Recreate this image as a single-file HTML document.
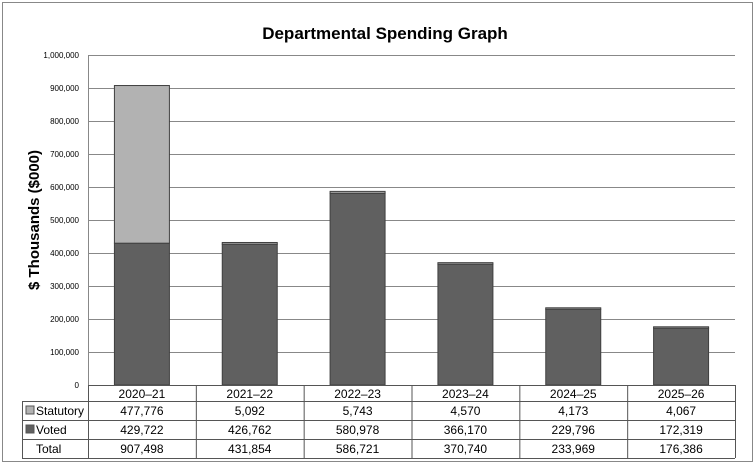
<!DOCTYPE html>
<html><head><meta charset="utf-8"><style>
body{margin:0;background:#fff;font-family:"Liberation Sans",sans-serif}
</style></head><body>
<svg id="c" width="755" height="464" xmlns="http://www.w3.org/2000/svg">
<rect x="2.5" y="2.5" width="750" height="459" fill="#fff" stroke="#888"/>
<text x="385" y="39" text-anchor="middle" font-size="17" font-weight="bold">Departmental Spending Graph</text>
<text transform="translate(39,220) rotate(-90)" text-anchor="middle" font-size="15" font-weight="bold">$ Thousands ($000)</text>
<g id="g"></g>
</svg>
<script>
const categories=["2020–21","2021–22","2022–23","2023–24","2024–25","2025–26"];
const statutory=[477776,5092,5743,4570,4173,4067];
const voted=[429722,426762,580978,366170,229796,172319];
const totals=[907498,431854,586721,370740,233969,176386];
const yTicks=[0,100000,200000,300000,400000,500000,600000,700000,800000,900000,1000000];
const NS="http://www.w3.org/2000/svg",g=document.getElementById('g');
const L=88,R=735,T=55,B=385,yMax=1000000;
const y=v=>B-(v/yMax)*(B-T);
const cw=(R-L)/categories.length;
const x=i=>L+cw*i;
function mk(t,a,txt){const e=document.createElementNS(NS,t);for(const k in a)e.setAttribute(k,a[k]);if(txt!=null)e.textContent=txt;g.appendChild(e);return e;}
const fmt=v=>v.toLocaleString('en-US');
yTicks.forEach(v=>{
 const l=mk('line',{x1:L,x2:R,y1:y(v)+.5,y2:y(v)+.5,stroke:'#888'});
 
 
 const t=mk('text',{x:79,y:y(v)+3,'text-anchor':'end','font-size':'8'},fmt(v));
 
 
});
mk('line',{x1:L+.5,x2:L+.5,y1:T,y2:B,stroke:'#888'});
const bw=55;
categories.forEach((c,i)=>{
 const bx=x(i)+(cw-bw)/2;
 const b1=mk('rect',{x:bx,y:y(voted[i]),width:bw,height:B-y(voted[i]),fill:'#606060',stroke:'#404040'});
 
 
 const b2=mk('rect',{x:bx,y:y(voted[i]+statutory[i]),width:bw,height:y(voted[i])-y(voted[i]+statutory[i]),fill:'#b2b2b2',stroke:'#404040'});
 
 
});
// table
const rows=[385,401,420,439,458];
const TL=22;
rows.forEach((ry,j)=>{mk('line',{x1:j==0?L:TL,x2:R,y1:ry+.5,y2:ry+.5,stroke:'#555'});});
mk('line',{x1:TL+.5,x2:TL+.5,y1:401,y2:458,stroke:'#555'});
for(let i=0;i<=categories.length;i++)mk('line',{x1:x(i)+.5,x2:x(i)+.5,y1:385,y2:458,stroke:'#555'});
const labels=["Statutory","Voted","Total"];
mk('rect',{x:26,y:406,width:8,height:8,fill:'#b2b2b2',stroke:'#555'});
mk('rect',{x:26,y:425,width:8,height:8,fill:'#606060',stroke:'#555'});
labels.forEach((lb,j)=>{
 const t=mk('text',{x:36,y:rows[j+1]+14,'font-size':'12'},lb);
 
 
});
const data=[statutory,voted,totals];
categories.forEach((c,i)=>{
 const cx=x(i)+cw/2;
 const h=mk('text',{x:cx,y:398,'text-anchor':'middle','font-size':'12'},c);
 
 
 data.forEach((arr,j)=>{
  const t=mk('text',{x:cx,y:rows[j+1]+14,'text-anchor':'middle','font-size':'12'},fmt(arr[i]));
  
  
 });
});
</script>
</body></html>
